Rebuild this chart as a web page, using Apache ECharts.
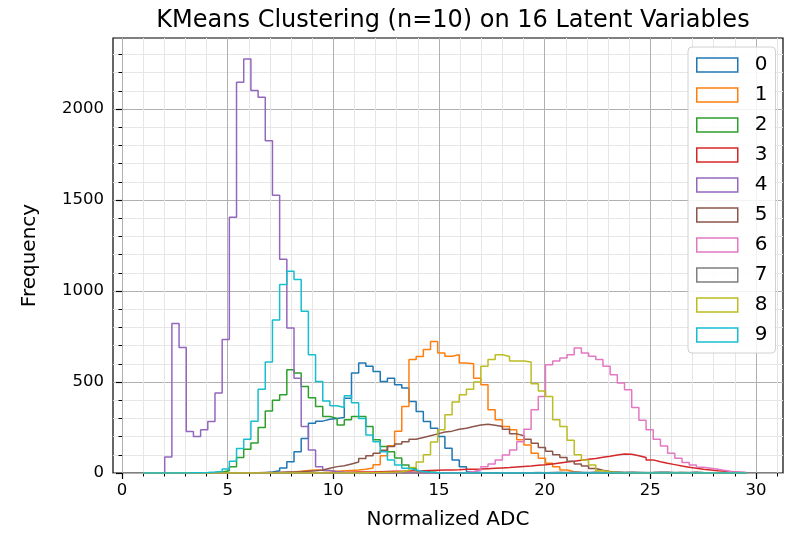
<!DOCTYPE html>
<html><head><meta charset="utf-8">
<script src="https://cdn.jsdelivr.net/npm/echarts@6/dist/echarts.min.js"></script>
<style>html,body{margin:0;padding:0;background:#fff}#chart{width:787px;height:538px}</style>
</head><body><div id="chart"></div>
<script>
// ---- data ----
const binStart = 1.0;      // left edge of the first histogram bin
const binWidth = 0.34;     // shared bin width
const binCount = 84;
const clusterNames = ['0','1','2','3','4','5','6','7','8','9'];
const clusterColors = ['#1f77b4','#ff7f0e','#2ca02c','#d62728','#9467bd','#8c564b','#e377c2','#7f7f7f','#bcbd22','#17becf'];
const firstBin = [16, 18, 8, 24, 0, 14, 40, 50, 30, 6];
const counts0 = [2,5,12,27,62,117,190,273,285,295,300,305,411,549,604,586,558,503,521,485,467,393,338,283,246,200,136,72,35,7,3,1];
const counts1 = [2,3,5,10,14,17,15,12,10,12,14,16,20,28,45,95,150,230,365,623,640,678,722,659,641,650,604,600,521,485,347,292,255,237,182,154,108,81,53,35,17,7,3];
const counts2 = [2,3,5,12,35,85,130,165,250,340,400,430,567,549,475,413,365,310,300,264,292,310,310,255,182,145,117,83,44,26,12,6,3,1];
const counts3 = [2,2,3,3,4,5,5,6,7,8,9,10,11,12,13,14,15,16,17,18,20,21,22,24,26,28,30,33,36,38,42,45,50,55,60,64,70,75,80,86,92,99,105,103,95,85,72,62,53,46,38,32,26,20,16,12,9,7,4,2];
const counts4 = [2,2,2,88,821,689,228,200,237,283,440,733,1405,2147,2275,2101,2064,1825,1526,1174,797,520,255,127,35,14,7,4,2,1];
const counts5 = [1,2,3,3,4,5,6,7,9,12,17,26,35,40,50,60,80,95,108,125,145,160,172,185,195,205,215,225,230,240,246,255,264,268,262,255,240,215,205,185,163,140,120,100,85,65,50,38,25,15,8,4,2,1];
const counts6 = [1,1,2,2,3,8,17,35,50,72,99,127,172,240,347,420,595,615,632,650,687,659,641,623,586,540,494,457,360,290,237,185,148,108,81,58,44,32,26,20,14,7,5,3];
const counts7 = [1,2,1,2,3,2,3,4,3,5,4,3,5,4,3,6,4,5,4,3,4,6,5,3,4,3,5,3,2,2,1];
const counts8 = [1,2,3,4,5,7,15,30,60,100,170,237,320,390,430,460,500,586,623,650,640,615,615,610,490,450,420,292,255,180,100,72,44,12,5,3,2,1];
const counts9 = [1,2,3,5,8,22,65,135,185,285,460,610,840,1036,1109,1063,889,650,503,395,370,360,425,386,300,209,172,117,72,44,26,17,8,4,2];
const clusterCounts = [counts0,counts1,counts2,counts3,counts4,counts5,counts6,counts7,counts8,counts9];
const xTickValues = [0,5,10,15,20,25,30];
const xMinorValues = [1,2,3,4,6,7,8,9,11,12,13,14,16,17,18,19,21,22,23,24,26,27,28,29,31];
const yTickValues = [0,500,1000,1500,2000];
const yMinorValues = [100,200,300,400,600,700,800,900,1100,1200,1300,1400,1600,1700,1800,1900,2100,2200,2300];
const xRange = [-0.426, 31.28];
const yRange = [0, 2390];

// ---- build step outlines (matplotlib histtype='step') ----
function stepData(first, counts) {
  const full = new Array(binCount).fill(0);
  counts.forEach((c, i) => { full[first + i] = c; });
  const edge = i => +(binStart + binWidth * i).toFixed(4);
  const pts = [[edge(0), 0]];
  for (let i = 0; i < binCount; i++) pts.push([edge(i), full[i]]);
  pts.push([edge(binCount), 0]);
  return pts;
}

const FONT = 'DejaVu Sans';
const series = clusterNames.map((name, k) => ({
  name: name,
  type: 'line',
  step: 'end',
  symbol: 'none',
  xAxisIndex: 0, yAxisIndex: 0,
  data: stepData(firstBin[k], clusterCounts[k]),
  lineStyle: {color: clusterColors[k], width: 1.5},
  itemStyle: {color: clusterColors[k]},
  silent: true,
  animation: false
}));

const chart = echarts.init(document.getElementById('chart'), null, {renderer: 'canvas'});
chart.setOption({
  animation: false,
  backgroundColor: '#ffffff',
  title: {
    text: 'KMeans Clustering (n=10) on 16 Latent Variables',
    left: 448, top: 4, textAlign: 'center',
    textStyle: {fontFamily: FONT, fontSize: 24, fontWeight: 'normal', color: '#000'}
  },
  grid: {left: 113, right: 4, top: 38, bottom: 65, show: true, borderColor: '#000', borderWidth: 1.2, backgroundColor: 'transparent'},
  legend: {
    orient: 'vertical', left: 688, top: 47,
    padding: [8, 8, 8, 8],
    itemWidth: 41, itemHeight: 14, itemGap: 10,
    backgroundColor: 'rgba(255,255,255,0.85)', borderColor: '#d0d0d0', borderWidth: 1, borderRadius: 4,
    textStyle: {fontFamily: FONT, fontSize: 20, color: '#000', padding: [0, 0, 0, 12]},
    data: clusterNames.map((n, k) => ({name: n, icon: 'rect', itemStyle: {color: 'rgba(255,255,255,0)', borderColor: clusterColors[k], borderWidth: 1.5}}))
  },
  xAxis: [
    {
      type: 'value', min: xRange[0], max: xRange[1], position: 'bottom',
      name: 'Normalized ADC', nameLocation: 'middle', nameGap: 37,
      nameTextStyle: {fontFamily: FONT, fontSize: 20, color: '#000'},
      axisLine: {show: false},
      axisTick: {show: true, customValues: xTickValues, length: 6, lineStyle: {color: '#000', width: 1.2}},
      axisLabel: {customValues: xTickValues, fontFamily: FONT, fontSize: 16.5, color: '#000', margin: 9},
      splitLine: {show: true, lineStyle: {color: '#b0b0b0', width: 1}}
    },
    {
      type: 'value', min: xRange[0], max: xRange[1], position: 'bottom',
      axisLine: {show: false},
      axisTick: {show: true, customValues: xMinorValues, length: 3.5, lineStyle: {color: '#000', width: 1}},
      axisLabel: {show: false},
      splitLine: {show: true, lineStyle: {color: '#e6e6e6', width: 1}}
    }
  ],
  yAxis: [
    {
      type: 'value', min: yRange[0], max: yRange[1], position: 'left',
      name: 'Frequency', nameLocation: 'middle', nameGap: 73,
      nameTextStyle: {fontFamily: FONT, fontSize: 20, color: '#000'},
      axisLine: {show: false},
      axisTick: {show: true, customValues: yTickValues, length: 6, lineStyle: {color: '#000', width: 1.2}},
      axisLabel: {customValues: yTickValues, formatter: v => String(v), fontFamily: FONT, fontSize: 16.5, color: '#000', margin: 9},
      splitLine: {show: true, lineStyle: {color: '#b0b0b0', width: 1}}
    },
    {
      type: 'value', min: yRange[0], max: yRange[1], position: 'left',
      axisLine: {show: false},
      axisTick: {show: true, customValues: yMinorValues, length: 3.5, lineStyle: {color: '#000', width: 1}},
      axisLabel: {show: false},
      splitLine: {show: true, lineStyle: {color: '#e6e6e6', width: 1}}
    }
  ],
  series: series
});
</script>
</body></html>
